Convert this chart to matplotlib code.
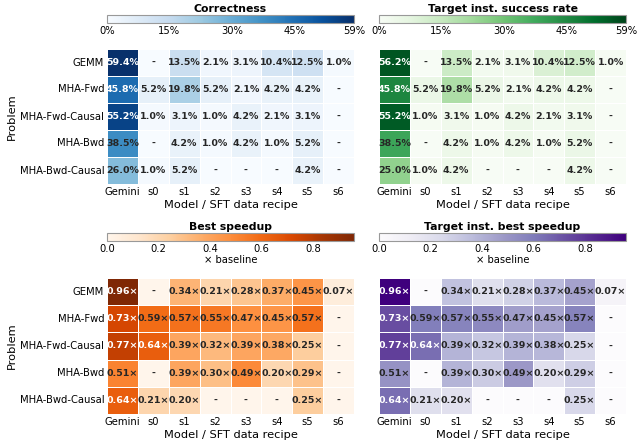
import numpy as np
import matplotlib
matplotlib.use('Agg')
import matplotlib.pyplot as plt
import seaborn as sns

problems = ['GEMM', 'MHA-Fwd', 'MHA-Fwd-Causal', 'MHA-Bwd', 'MHA-Bwd-Causal']
recipes = ['Gemini', 's0', 's1', 's2', 's3', 's4', 's5', 's6']

# None = no successful sample ("-")
correctness = [
    [59.4, None, 13.5, 2.1, 3.1, 10.4, 12.5, 1.0],
    [45.8, 5.2, 19.8, 5.2, 2.1, 4.2, 4.2, None],
    [55.2, 1.0, 3.1, 1.0, 4.2, 2.1, 3.1, None],
    [38.5, None, 4.2, 1.0, 4.2, 1.0, 5.2, None],
    [26.0, 1.0, 5.2, None, None, None, 4.2, None],
]
target_success = [
    [56.2, None, 13.5, 2.1, 3.1, 10.4, 12.5, 1.0],
    [45.8, 5.2, 19.8, 5.2, 2.1, 4.2, 4.2, None],
    [55.2, 1.0, 3.1, 1.0, 4.2, 2.1, 3.1, None],
    [38.5, None, 4.2, 1.0, 4.2, 1.0, 5.2, None],
    [25.0, 1.0, 4.2, None, None, None, 4.2, None],
]
best_speedup = [
    [0.96, None, 0.34, 0.21, 0.28, 0.37, 0.45, 0.07],
    [0.73, 0.59, 0.57, 0.55, 0.47, 0.45, 0.57, None],
    [0.77, 0.64, 0.39, 0.32, 0.39, 0.38, 0.25, None],
    [0.51, None, 0.39, 0.30, 0.49, 0.20, 0.29, None],
    [0.64, 0.21, 0.20, None, None, None, 0.25, None],
]
target_speedup = [
    [0.96, None, 0.34, 0.21, 0.28, 0.37, 0.45, 0.07],
    [0.73, 0.59, 0.57, 0.55, 0.47, 0.45, 0.57, None],
    [0.77, 0.64, 0.39, 0.32, 0.39, 0.38, 0.25, None],
    [0.51, None, 0.39, 0.30, 0.49, 0.20, 0.29, None],
    [0.64, 0.21, 0.20, None, None, None, 0.25, None],
]


def prep(table, fmt):
    vals = np.array([[0.0 if v is None else v for v in row] for row in table])
    labels = np.array([['-' if v is None else fmt.format(v) for v in row] for row in table])
    return vals, labels


def draw(fig, pos, cpos, table, fmt, cmap, vmax, title, pct, left):
    vals, labels = prep(table, fmt)
    ax = fig.add_axes(pos)
    cax = fig.add_axes(cpos)
    sns.heatmap(vals, ax=ax, cmap=cmap, vmin=0, vmax=vmax, annot=labels, fmt='',
                annot_kws={'fontsize': 6.8, 'fontweight': 'bold'},
                linewidths=0.5, linecolor='white', cbar=False,
                xticklabels=recipes, yticklabels=problems if left else False)
    # white text only on the darkest cells
    for txt, v in zip(ax.texts, vals.flat):
        txt.set_color('white' if v > 0.655 * vmax else '.15')
    ax.tick_params(length=0, labelsize=7.2, pad=2)
    ax.set_xticklabels(recipes, rotation=0)
    if left:
        ax.set_yticklabels(problems, rotation=0)
        ax.set_ylabel('Problem', fontsize=8.2, labelpad=2)
    ax.set_xlabel('Model / SFT data recipe', fontsize=8.2, labelpad=2)
    cb = fig.colorbar(ax.collections[0], cax=cax, orientation='horizontal')
    cb.outline.set_edgecolor('0.6')
    cb.outline.set_linewidth(0.8)
    cax.tick_params(length=0, labelsize=7.2, pad=2)
    if pct:
        ticks = [0, 15, 30, 45, vmax]
        cb.set_ticks(ticks)
        cb.set_ticklabels([f'{t:.0f}%' for t in ticks])
    else:
        cb.set_ticks([0, 0.2, 0.4, 0.6, 0.8])
        cb.set_ticklabels(['0.0', '0.2', '0.4', '0.6', '0.8'])
        cax.set_xlabel('× baseline', fontsize=7.2, labelpad=1)
    cax.set_title(title, fontsize=7.8, fontweight='bold', pad=2)
    return ax


W, H = 640, 447
fig = plt.figure(figsize=(W / 100, H / 100), dpi=100)


def box(x0, y0, x1, y1):
    return [x0 / W, 1 - y1 / H, (x1 - x0) / W, (y1 - y0) / H]


pct_max = max(max(v for v in row if v is not None) for row in correctness + target_success)
spd_max = max(max(v for v in row if v is not None) for row in best_speedup + target_speedup)

draw(fig, box(107, 49, 354, 184), box(107, 15, 354, 23), correctness, '{:.1f}%',
     'Blues', pct_max, 'Correctness', True, True)
draw(fig, box(379, 49, 626, 184), box(379, 15, 626, 23), target_success, '{:.1f}%',
     'Greens', pct_max, 'Target inst. success rate', True, False)
draw(fig, box(107, 278, 354, 414), box(107, 233, 354, 241), best_speedup, '{:.2f}×',
     'Oranges', spd_max, 'Best speedup', False, True)
draw(fig, box(379, 278, 626, 414), box(379, 233, 626, 241), target_speedup, '{:.2f}×',
     'Purples', spd_max, 'Target inst. best speedup', False, False)

fig.savefig('out.png', dpi=100)
